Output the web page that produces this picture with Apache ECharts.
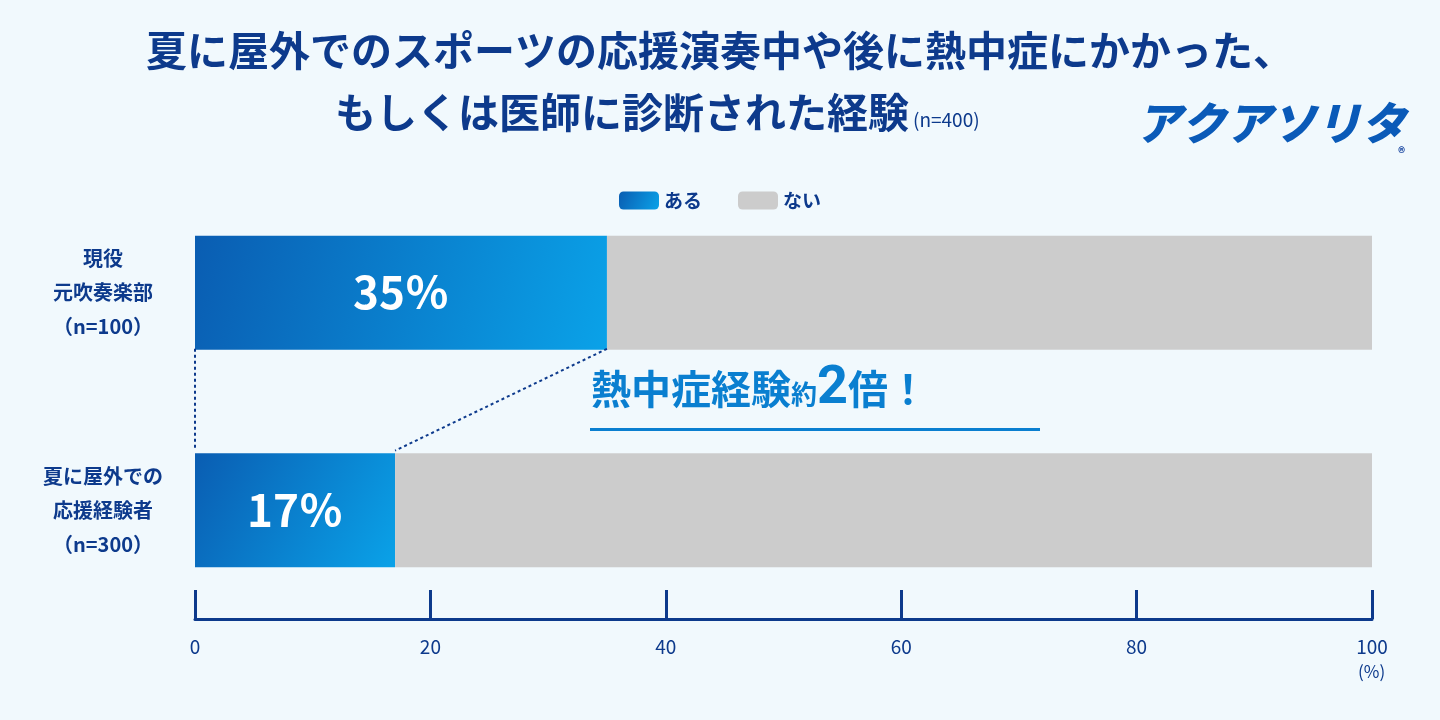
<!doctype html>
<html>
<head>
<meta charset="utf-8">
<script src="https://cdn.jsdelivr.net/npm/echarts@6/dist/echarts.min.js"></script>
<style>body{margin:0;background:#f1f9fd}</style>
</head>
<body>
<div id="chart" style="width:1440px;height:720px;"></div>
<script>
var categories = ['夏に屋外での\n応援経験者\n（n=300）', '現役\n元吹奏楽部\n（n=100）'];
var yes = [17, 35];
var no = [83, 65];
var ticks = [0, 20, 40, 60, 80, 100];

var navy = '#0d3a8c';
var blueGrad = new echarts.graphic.LinearGradient(0, 0, 1, 1, [
  {offset: 0, color: '#0a5db2'}, {offset: 1, color: '#0aa2e8'}
]);
var font = '"Noto Sans CJK JP", sans-serif';

var chart = echarts.init(document.getElementById('chart'));
var option = {
  backgroundColor: '#f1f9fd',
  textStyle: {fontFamily: font},
  animation: false,
  legend: {
    top: 186, left: 'center', itemWidth: 40, itemHeight: 18, itemGap: 36,
    textStyle: {color: navy, fontSize: 19, fontWeight: 'bold', fontFamily: font},
    data: ['ある', 'ない']
  },
  grid: {left: 195, right: 68, top: 184, height: 435},
  xAxis: {
    type: 'value', min: 0, max: 100, interval: 20,
    axisLine: {show: true, lineStyle: {color: navy, width: 3}},
    axisTick: {show: true, inside: true, length: 29, lineStyle: {color: navy, width: 3}},
    splitLine: {show: false},
    axisLabel: {color: navy, fontSize: 19, margin: 18, fontFamily: font,
      formatter: function (v) { return ticks.indexOf(v) >= 0 ? String(v) : ''; }}
  },
  yAxis: [{
    type: 'category', data: categories,
    axisLine: {show: false}, axisTick: {show: false},
    axisLabel: {color: navy, fontSize: 20, fontWeight: 'bold', lineHeight: 34, margin: 92, align: 'center',
      fontFamily: font}
  }, {
    type: 'value', min: 0, max: 1, show: false
  }],
  series: [{
    name: 'ある', type: 'bar', stack: 't', data: yes, barWidth: 114,
    itemStyle: {color: blueGrad},
    label: {show: true, position: 'inside', color: '#fff', fontSize: 44, fontWeight: 'bold', fontFamily: font,
      formatter: '{c}％'}
  }, {
    name: 'ない', type: 'bar', stack: 't', data: no, barWidth: 114,
    itemStyle: {color: '#cccccc'}
  }, {
    type: 'line', yAxisIndex: 1, symbol: 'none', silent: true,
    lineStyle: {color: navy, width: 2, type: [3, 3]},
    data: [[0, 0.621], [0, 0.387]]
  }, {
    type: 'line', yAxisIndex: 1, symbol: 'none', silent: true,
    lineStyle: {color: navy, width: 2, type: [3, 3]},
    data: [[yes[1], 0.621], [yes[0], 0.387]]
  }],
  graphic: [{
    type: 'text', left: 'center', top: 30,
    style: {text: '夏に屋外でのスポーツの応援演奏中や後に熱中症にかかった、', fill: navy,
      font: 'bold 41px ' + font}
  }, {
    type: 'text', left: 335, top: 92,
    style: {text: '{a|もしくは医師に診断された経験}{b|(n=400)}', fill: navy,
      rich: {a: {fontSize: 41, fontWeight: 'bold', fontFamily: font, fill: navy},
             b: {fontSize: 19, fontFamily: font, fill: navy, padding: [14, 0, 0, 4]}}}
  }, {
    type: 'text', left: 1136, top: 100,
    style: {text: 'アクアソリタ', font: 'italic 900 45px ' + font, fill: '#0a5ab8'}
  }, {
    type: 'text', left: 1398, top: 146,
    style: {text: '®', font: 'bold 14px ' + font, fill: '#0a3a9a'}
  }, {
    type: 'text', left: 591, top: 362,
    style: {text: '{a|熱中症経験}{b|約}{c|2}{a|倍！}',
      rich: {a: {fontSize: 40, fontWeight: 'bold', fontFamily: font, fill: '#0a7fd0'},
             b: {fontSize: 26, fontWeight: 'bold', fontFamily: font, fill: '#0a7fd0', padding: [10, 0, 0, 0]},
             c: {fontSize: 54, fontWeight: 'bold', fontFamily: 'Roboto', fill: '#0a7fd0'}}}
  }, {
    type: 'rect', shape: {x: 590, y: 428, width: 450, height: 3},
    style: {fill: '#0a7fd0'}
  }, {
    type: 'text', left: 1358, top: 663,
    style: {text: '(%)', font: '17px ' + font, fill: navy}
  }]
};
chart.setOption(option);
</script>
</body>
</html>
